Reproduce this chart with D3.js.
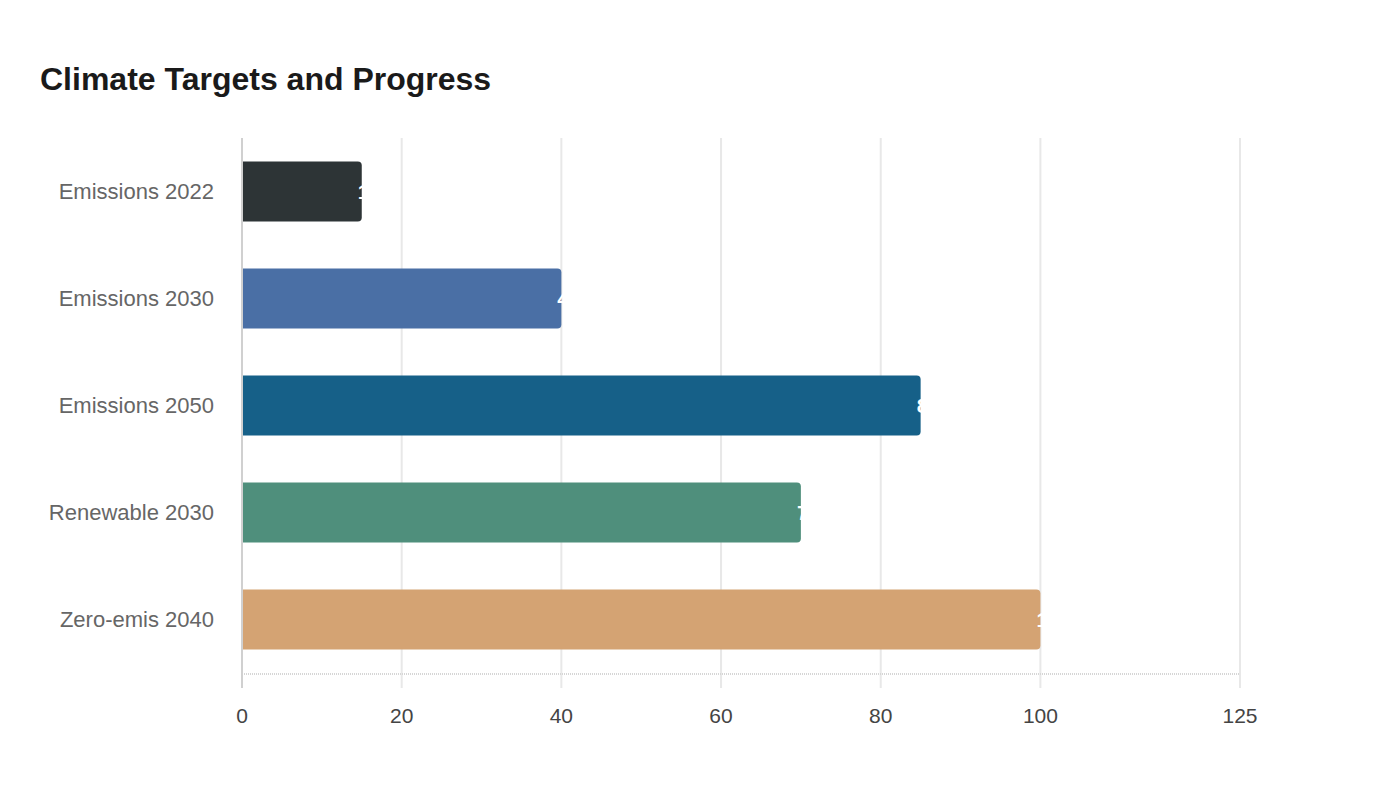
<!DOCTYPE html>
<html>
<head>
<meta charset="utf-8">
<script src="https://cdn.jsdelivr.net/npm/d3@7"></script>
<style>
  body { margin: 0; background: #fff; font-family: "Liberation Sans", Arial, sans-serif; }
</style>
</head>
<body>
<div id="chart-area"></div>
<script>
// data
let categories = ["Emissions 2022", "Emissions 2030", "Emissions 2050", "Renewable 2030", "Zero-emis 2040"];
let values = [15, 40, 85, 70, 100];
let colors = ["#2d3436", "#4a6fa5", "#166088", "#4f8f7c", "#d4a373"];
let xTicks = [0, 20, 40, 60, 80, 100, 125];

let data = categories.map(function(c, i) { return {name: c, value: values[i], color: colors[i]}; });

let W = 1400, H = 800;
let m = {top: 138, right: 160, bottom: 127, left: 242};
let w = W - m.left - m.right;
let h = H - m.top - m.bottom;

let svg = d3.select("#chart-area")
    .append("svg")
    .attr("width", W)
    .attr("height", H)
    .attr("font-family", "'Liberation Sans', Arial, sans-serif");

// title
svg.append("text")
    .attr("x", 40)
    .attr("y", 90)
    .attr("font-size", "32px")
    .attr("font-weight", "bold")
    .attr("fill", "#1a1a1a")
    .text("Climate Targets and Progress");

let g = svg.append("g")
    .attr("transform", "translate(" + m.left + "," + m.top + ")");

let x = d3.scaleLinear()
    .domain([0, 125])
    .range([0, w]);

let y = d3.scaleBand()
    .domain(categories)
    .range([0, h])
    .paddingInner(0.44)
    .paddingOuter(0.22);

// grid lines
g.selectAll(".grid")
    .data(xTicks)
    .enter()
    .append("line")
      .attr("class", "grid")
      .attr("x1", function(d) { return x(d); })
      .attr("x2", function(d) { return x(d); })
      .attr("y1", 0)
      .attr("y2", h + 15)
      .attr("stroke", "#e8e8e8")
      .attr("stroke-width", 2);

// bottom axis line (dotted)
g.append("line")
    .attr("x1", 0)
    .attr("x2", w)
    .attr("y1", h + 1)
    .attr("y2", h + 1)
    .attr("stroke", "#d6d6d6")
    .attr("stroke-width", 2)
    .attr("stroke-dasharray", "1,1");

// left axis line
g.append("line")
    .attr("x1", 0)
    .attr("x2", 0)
    .attr("y1", 0)
    .attr("y2", h + 15)
    .attr("stroke", "#d0d0d0")
    .attr("stroke-width", 2);

// bars with rounded right end
let r = 4;
function barPath(d) {
  let x0 = x(0) + 1, x1 = x(d.value), y0 = y(d.name), y1 = y0 + y.bandwidth();
  return "M" + x0 + "," + y0 +
    "H" + (x1 - r) +
    "Q" + x1 + "," + y0 + " " + x1 + "," + (y0 + r) +
    "V" + (y1 - r) +
    "Q" + x1 + "," + y1 + " " + (x1 - r) + "," + y1 +
    "H" + x0 + "Z";
}

g.selectAll(".bar")
    .data(data)
    .enter()
    .append("path")
      .attr("class", "bar")
      .attr("d", barPath)
      .attr("fill", function(d) { return d.color; });

// value labels (start at bar end, white)
g.selectAll(".val")
    .data(data)
    .enter()
    .append("text")
      .attr("class", "val")
      .attr("x", function(d) { return x(d.value) - 4; })
      .attr("y", function(d) { return y(d.name) + y.bandwidth() / 2; })
      .attr("dy", "0.35em")
      .attr("font-size", "21px")
      .attr("font-weight", "bold")
      .attr("fill", "#fff")
      .attr("text-anchor", "start")
      .text(function(d) { return d.value; });

// category labels
g.selectAll(".cat")
    .data(data)
    .enter()
    .append("text")
      .attr("class", "cat")
      .attr("x", -28)
      .attr("y", function(d) { return y(d.name) + y.bandwidth() / 2; })
      .attr("dy", "0.35em")
      .attr("font-size", "22px")
      .attr("fill", "#666")
      .attr("text-anchor", "end")
      .text(function(d) { return d.name; });

// x tick labels
g.selectAll(".tick-label")
    .data(xTicks)
    .enter()
    .append("text")
      .attr("class", "tick-label")
      .attr("x", function(d) { return x(d); })
      .attr("y", h + 50)
      .attr("font-size", "21px")
      .attr("fill", "#444")
      .attr("text-anchor", "middle")
      .text(function(d) { return d; });
</script>
</body>
</html>
